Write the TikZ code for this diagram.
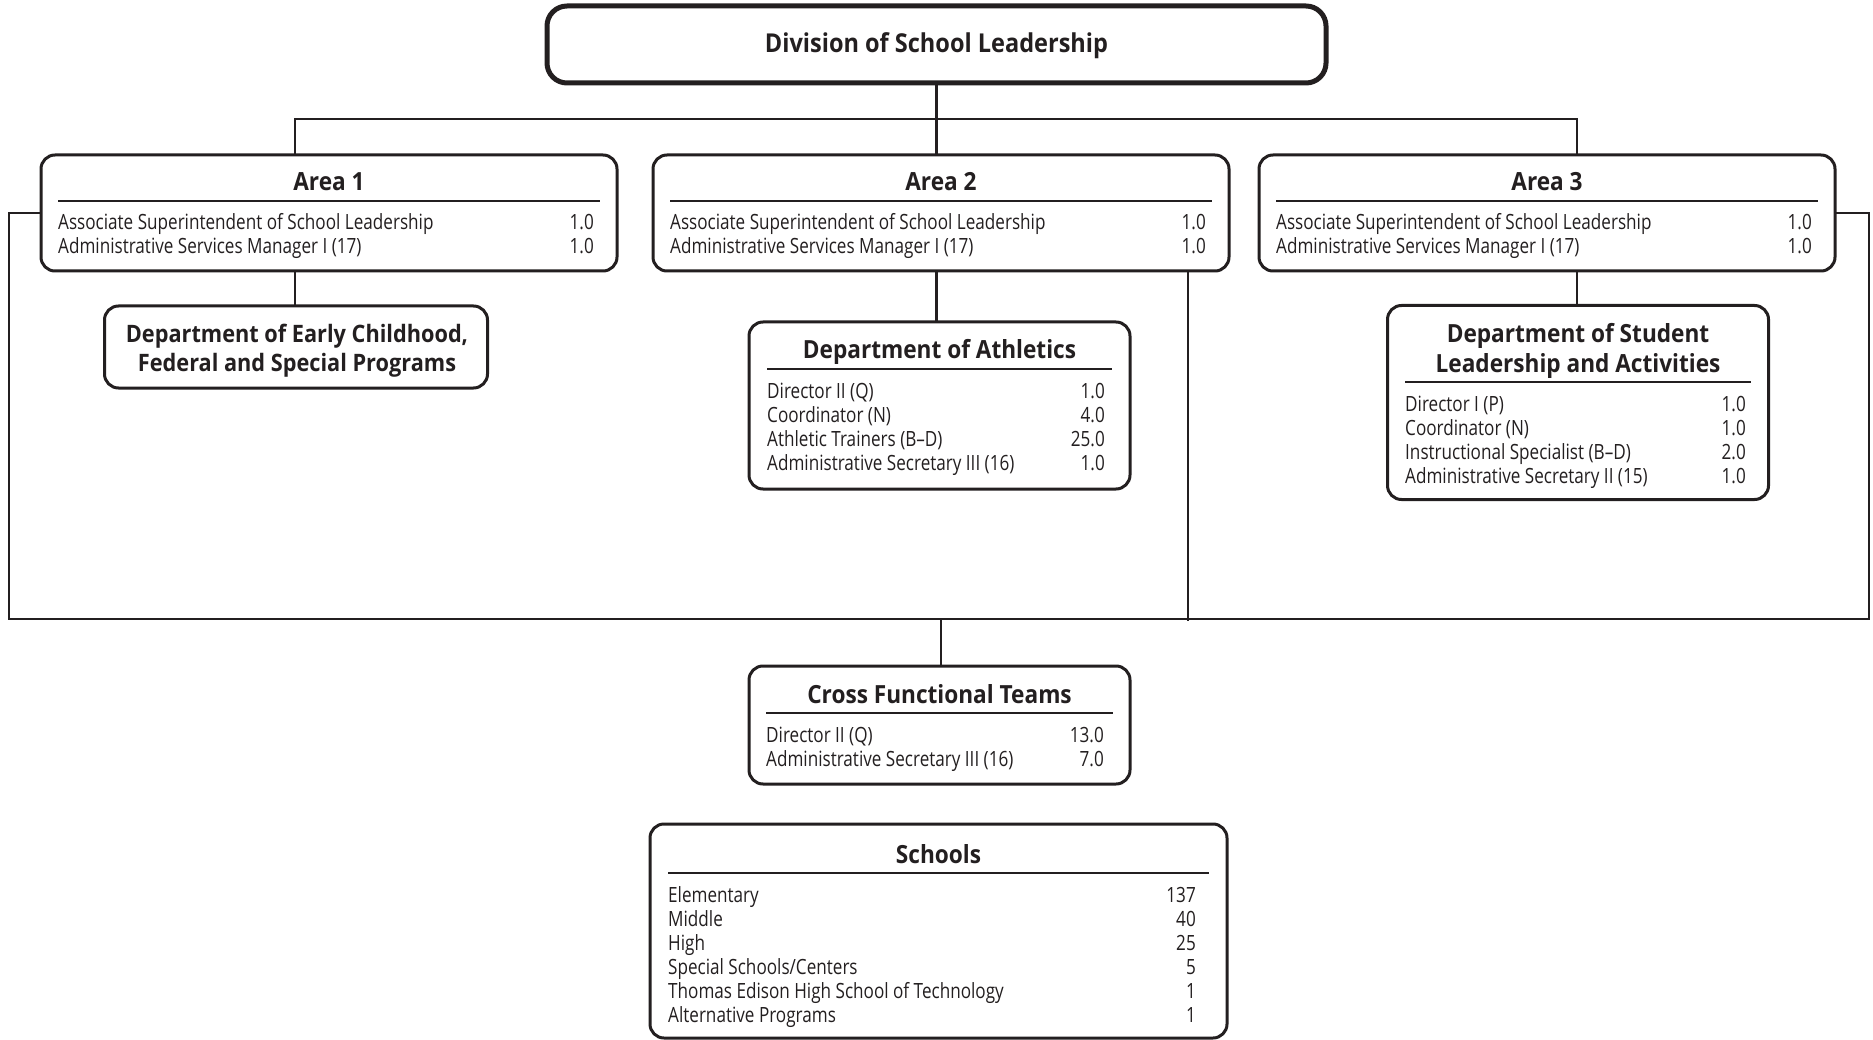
\documentclass[tikz,border=0pt]{standalone}
\usepackage{fontspec}
\setmainfont{Open Sans}[FakeStretch=0.815]
\newfontfamily\hfont{Open Sans}[FakeStretch=0.905]
\definecolor{ink}{RGB}{35,31,32}
\begin{document}
\begin{tikzpicture}[x=1pt,y=-1pt,
  box/.style={draw=ink, line width=3pt, rounded corners=14pt, inner sep=0pt, outer sep=0pt, fill=white},
  topbox/.style={box, line width=5pt, rounded corners=20pt},
  conn/.style={draw=ink, line width=2.5pt},
  sep/.style={draw=ink, line width=1.4pt},
  lbl/.style={anchor=base west, inner sep=0pt, text=ink, font=\fontsize{21}{24}\selectfont},
  num/.style={lbl, anchor=base east},
  ttl/.style={anchor=base, inner sep=0pt, text=ink, font=\hfont\bfseries\fontsize{25}{29}\selectfont}]
\useasboundingbox (0,0) rectangle (1873,1040);

% top
\node[topbox, minimum width=779pt, minimum height=77pt] (div) at (936.5,44.5) {};
\node[ttl, font=\hfont\bfseries\fontsize{26}{30}\selectfont] (divt) at (936.5,53) {Division of School Leadership};

% areas
\foreach \i/\L in {1/41, 2/653, 3/1259} {
  \node[box, minimum width=576pt, minimum height=116pt] (a\i) at (\L+288,213) {};
  \node[ttl] (a\i t) at (\L+288,191) {Area \i};
  \draw[sep] (\L+17,201) -- (\L+559,201);
  \node[lbl] (a\i l1) at (\L+17,230) {Associate Superintendent of School Leadership};
  \node[num] (a\i n1) at (\L+553,230) {1.0};
  \node[lbl] (a\i l2) at (\L+17,254) {Administrative Services Manager I (17)};
  \node[num] (a\i n2) at (\L+553,254) {1.0};
}

% Dept early childhood
\node[box, minimum width=383pt, minimum height=82pt] (d1) at (296,347) {};
\node[ttl, font=\hfont\bfseries\fontsize{24}{28}\selectfont] (d1t1) at (297,342) {Department of Early Childhood,};
\node[ttl, font=\hfont\bfseries\fontsize{24}{28}\selectfont] (d1t2) at (297,371) {Federal and Special Programs};

% Dept athletics
\node[box, minimum width=381pt, minimum height=167pt] (ath) at (939.5,405.5) {};
\node[ttl] (atht) at (939.5,359) {Department of Athletics};
\draw[sep] (767,369) -- (1112,369);
\foreach \j/\t/\n in {0/Director II (Q)/1.0, 1/Coordinator (N)/4.0, 2/Athletic Trainers (B–D)/25.0, 3/Administrative Secretary III (16)/1.0} {
  \node[lbl] (athl\j) at (767,398+24*\j) {\t};
  \node[num] (athn\j) at (1105,398+24*\j) {\n};
}

% Dept student leadership
\node[box, minimum width=381pt, minimum height=194pt] (d3) at (1578,402.5) {};
\node[ttl] (d3t1) at (1578,343) {Department of Student};
\node[ttl] (d3t2) at (1578,372) {Leadership and Activities};
\draw[sep] (1405,382) -- (1751,382);
\foreach \j/\t/\n in {0/Director I (P)/1.0, 1/Coordinator (N)/1.0, 2/Instructional Specialist (B–D)/2.0, 3/Administrative Secretary II (15)/1.0} {
  \node[lbl] (d3l\j) at (1405,411+24*\j) {\t};
  \node[num] (d3n\j) at (1746,411+24*\j) {\n};
}

% Cross functional teams
\node[box, minimum width=381pt, minimum height=118pt] (cft) at (939.5,725) {};
\node[ttl] (cftt) at (939.5,703) {Cross Functional Teams};
\draw[sep] (766,713) -- (1113,713);
\node[lbl] (cftl0) at (766,742) {Director II (Q)};
\node[num] (cftn0) at (1104,742) {13.0};
\node[lbl] (cftl1) at (766,766) {Administrative Secretary III (16)};
\node[num] (cftn1) at (1104,766) {7.0};

% Schools
\node[box, minimum width=577pt, minimum height=214pt] (sch) at (938.5,931) {};
\node[ttl] (scht) at (938.5,863) {Schools};
\draw[sep] (668,873) -- (1209,873);
\foreach \j/\t/\n in {0/Elementary/137, 1/Middle/40, 2/High/25, 3/Special Schools\slash Centers/5, 4/Thomas Edison High School of Technology/1, 5/Alternative Programs/1} {
  \node[lbl] (schl\j) at (668,902+24*\j) {\t};
  \node[num] (schn\j) at (1196,902+24*\j) {\n};
}

% connectors
\coordinate (b1) at (295,119);
\coordinate (b3) at (1577,119);
\coordinate (bl) at (9,619);
\coordinate (br) at (1869,619);
\coordinate (v2) at (1188,621);
\draw[conn] (div.south) -- (div.south |- a2.north);
\draw[conn] (b1 |- a1.north) -- (b1) -- (b3) -- (b3 |- a3.north);
\draw[conn] (a1.south -| b1) -- (d1.north -| b1);
\draw[conn] (a2.south -| div.south) -- (ath.north -| div.south);
\draw[conn] (a3.south -| b3) -- (d3.north -| b3);
\draw[conn] (a1.west) -| (bl) -- (br) |- (a3.east);
\draw[conn] (a2.south -| v2) -- (v2);
\draw[conn] (bl -| 941,0) -- (cft.north -| 941,0);
\end{tikzpicture}
\end{document}
